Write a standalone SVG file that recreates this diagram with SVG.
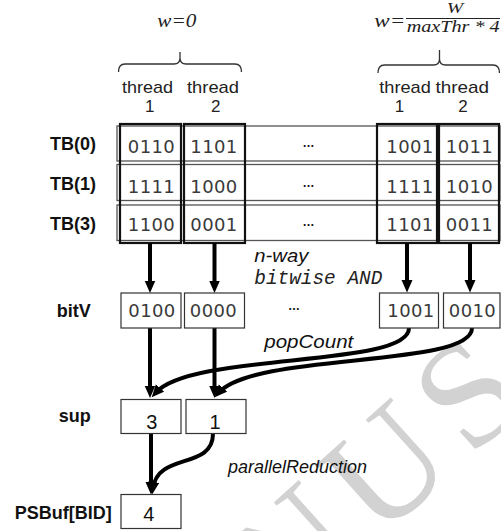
<svg xmlns="http://www.w3.org/2000/svg" width="501" height="531" viewBox="0 0 501 531">
<style>
.bg{fill:#fff}
.wm{font-family:"Liberation Serif","Times New Roman",serif;font-size:150px;letter-spacing:15px;fill:#d2d2d2}
.row{fill:none;stroke:#555;stroke-width:1.3}
.col{fill:none;stroke:#111;stroke-width:2.2}
.box{fill:#fff;stroke:#333;stroke-width:1.2}
.brace{fill:none;stroke:#333;stroke-width:1.3}
.lbl{font-family:"Liberation Sans",Arial,sans-serif;font-weight:bold;font-size:18px;fill:#111}
.thr{font-family:"Liberation Sans",Arial,sans-serif;font-size:17px;fill:#222}
.mono{font-family:"DejaVu Sans",sans-serif;font-size:18px;letter-spacing:0.4px;fill:#3a3a3a}
.it{font-family:"Liberation Sans",Arial,sans-serif;font-style:italic;font-size:18px;fill:#111}
.monoit{font-family:"Liberation Mono","DejaVu Sans Mono",monospace;font-style:italic;font-size:19.5px;fill:#222}
.math{font-family:"Liberation Serif","Times New Roman",serif;font-style:italic;fill:#222}
.num{font-family:"Liberation Sans",Arial,sans-serif;font-size:20px;fill:#111}
.dots{font-family:"Liberation Sans",Arial,sans-serif;font-weight:bold;font-size:12px;fill:#111}
.arr{fill:none;stroke:#000;stroke-width:4;marker-end:url(#ah)}
</style>
<defs>
<marker id="ah" markerUnits="userSpaceOnUse" markerWidth="13" markerHeight="12" refX="6" refY="5.5" orient="auto">
<path d="M0,0 L12.5,5.5 L0,11 z" fill="#000"/>
</marker>
</defs>
<rect class="bg" x="0" y="0" width="501" height="531"/>
<text class="wm" x="286.6" y="623.2" transform="rotate(-42 286.6 623.2)">NUS</text>

<g id="header-w0">
<text class="math" x="157.3" y="27" font-size="18" textLength="39" lengthAdjust="spacingAndGlyphs">w=0</text>
<path class="brace" d="M118.5,72 Q118.5,64 125,64 L174,64 Q180,64 180,58 L180,52 M180,58 Q180,64 186,64 L235,64 Q241.5,64 241.5,72"/>
</g>
<g id="header-wW">
<text class="math" x="374.3" y="27" font-size="18" textLength="31" lengthAdjust="spacingAndGlyphs">w=</text>
<text class="math" x="446.7" y="13" font-size="15" textLength="16.5" lengthAdjust="spacingAndGlyphs">W</text>
<line x1="406" y1="18.5" x2="500" y2="18.5" stroke="#222" stroke-width="1.2"/>
<text class="math" x="406.7" y="31.7" font-size="16" textLength="93" lengthAdjust="spacingAndGlyphs">maxThr * 4</text>
<path class="brace" d="M378,73 Q378,65 384.5,65 L433.5,65 Q439.5,65 439.5,59 L439.5,50 M439.5,59 Q439.5,65 445.5,65 L493,65 Q499.5,65 499.5,73"/>
</g>

<g id="thread-labels">
<text class="thr" x="122" y="92.5" textLength="51" lengthAdjust="spacingAndGlyphs">thread</text>
<text class="thr" x="187" y="92.5" textLength="52" lengthAdjust="spacingAndGlyphs">thread</text>
<text class="thr" x="379.3" y="92.5" textLength="51.5" lengthAdjust="spacingAndGlyphs">thread</text>
<text class="thr" x="435.5" y="92.5" textLength="53.5" lengthAdjust="spacingAndGlyphs">thread</text>
<text class="thr" x="149.7" y="111.5" text-anchor="middle">1</text>
<text class="thr" x="215.8" y="111.5" text-anchor="middle">2</text>
<text class="thr" x="399.5" y="111.5" text-anchor="middle">1</text>
<text class="thr" x="463" y="111.5" text-anchor="middle">2</text>
</g>

<g id="TB0">
<rect class="row" x="117" y="126" width="383" height="35"/>
<text class="lbl" x="96" y="149.5" text-anchor="end">TB(0)</text>
<text class="mono" x="151.5" y="153" text-anchor="middle">0110</text>
<text class="mono" x="214" y="153" text-anchor="middle">1101</text>
<text class="dots" x="308.5" y="147" text-anchor="middle">…</text>
<text class="mono" x="410" y="153" text-anchor="middle">1001</text>
<text class="mono" x="469.5" y="153" text-anchor="middle">1011</text>
</g>
<g id="TB1">
<rect class="row" x="117" y="164.5" width="383" height="36"/>
<text class="lbl" x="96" y="190" text-anchor="end">TB(1)</text>
<text class="mono" x="151.5" y="193" text-anchor="middle">1111</text>
<text class="mono" x="214" y="193" text-anchor="middle">1000</text>
<text class="dots" x="308.5" y="186.5" text-anchor="middle">…</text>
<text class="mono" x="410" y="193" text-anchor="middle">1111</text>
<text class="mono" x="469.5" y="193" text-anchor="middle">1010</text>
</g>
<g id="TB3">
<rect class="row" x="117" y="205" width="383" height="35.5"/>
<text class="lbl" x="96" y="229.5" text-anchor="end">TB(3)</text>
<text class="mono" x="151.5" y="231" text-anchor="middle">1100</text>
<text class="mono" x="214" y="231" text-anchor="middle">0001</text>
<text class="dots" x="308.5" y="225.5" text-anchor="middle">…</text>
<text class="mono" x="410" y="231" text-anchor="middle">1101</text>
<text class="mono" x="469.5" y="231" text-anchor="middle">0011</text>
</g>

<g id="thread-columns">
<rect class="col" x="120" y="124" width="61" height="119"/>
<rect class="col" x="184" y="124" width="61" height="119"/>
<rect class="col" x="377" y="124" width="60" height="119"/>
<rect class="col" x="439" y="124" width="60" height="119"/>
</g>

<g id="connectors">
<path class="arr" d="M150,243 L150,286.5"/>
<path class="arr" d="M214.5,243 L214.5,286.5"/>
<path class="arr" d="M407,243 L407,286"/>
<path class="arr" d="M470,243 L470,286"/>
<path class="arr" d="M150,328 L150,391.5"/>
<path class="arr" d="M214.5,328 L214.5,391.5"/>
<path class="arr" d="M409,328 C409,368 192,352 156,392.5"/>
<path class="arr" d="M472,328 C472,368 255,352 219,392.5"/>
<path class="arr" d="M151,433.5 L151,488"/>
<path class="arr" d="M213,433.5 C213,470 158,452 153,488"/>
</g>

<g id="bitV">
<text class="lbl" x="90.7" y="317" text-anchor="end">bitV</text>
<rect class="box" x="121" y="293" width="60" height="35"/>
<rect class="box" x="184.5" y="293" width="60" height="35"/>
<rect class="box" x="379.5" y="293" width="59" height="35"/>
<rect class="box" x="443.5" y="293" width="56.5" height="35"/>
<text class="mono" x="152" y="317" text-anchor="middle">0100</text>
<text class="mono" x="213.5" y="317" text-anchor="middle">0000</text>
<text class="dots" x="294" y="309.5" text-anchor="middle">…</text>
<text class="mono" x="411" y="317" text-anchor="middle">1001</text>
<text class="mono" x="472.5" y="317" text-anchor="middle">0010</text>
</g>

<g id="op-labels">
<text class="it" x="254.3" y="261.7" font-size="19.5" textLength="54" lengthAdjust="spacingAndGlyphs">n-way</text>
<text class="monoit" x="254.3" y="284.3" textLength="128" lengthAdjust="spacingAndGlyphs">bitwise AND</text>
<text class="it" x="264.3" y="348.3" font-size="19.5" textLength="89" lengthAdjust="spacingAndGlyphs">popCount</text>
<text class="it" x="228" y="472.7" textLength="139" lengthAdjust="spacingAndGlyphs">parallelReduction</text>
</g>

<g id="sup">
<text class="lbl" x="90.7" y="421.7" text-anchor="end">sup</text>
<rect class="box" x="121" y="399.5" width="60" height="34"/>
<rect class="box" x="186" y="399.5" width="60" height="34"/>
<text class="num" x="151.7" y="429.3" text-anchor="middle">3</text>
<text class="num" x="215" y="429.3" text-anchor="middle">1</text>
</g>

<g id="PSBuf">
<text class="lbl" x="111.7" y="518.5" text-anchor="end">PSBuf[BID]</text>
<rect class="box" x="121" y="494.5" width="60" height="34"/>
<text class="num" x="148.7" y="521" text-anchor="middle">4</text>
</g>
</svg>
